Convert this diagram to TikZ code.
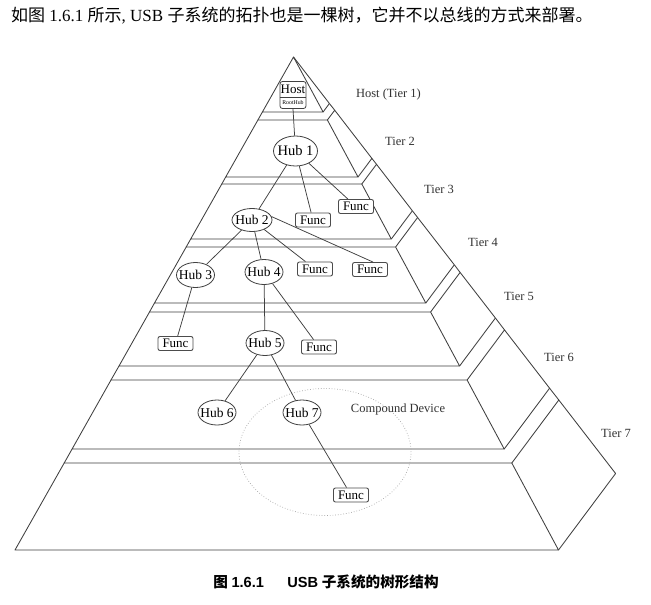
\documentclass[tikz,border=0pt]{standalone}
\usepackage{fontspec}
\setmainfont{Liberation Serif}
\newfontfamily\cjk{Noto Sans CJK SC}
\newfontfamily\capsans{Liberation Sans}
\usetikzlibrary{shapes.geometric}
\newcommand{\zb}[1]{\makebox[0pt]{#1}}
\begin{document}
\begin{tikzpicture}[x=1pt,y=-1pt,
  face/.style={draw=black!75, line width=0.85pt, line join=round},
  ledge/.style={draw=black!75, line width=0.85pt},
  link/.style={draw=black!75, line width=0.75pt},
  hub/.style={ellipse, draw=black!75, line width=0.8pt, fill=white, inner sep=0pt,
    minimum width=38pt, minimum height=25pt, font=\fontsize{13.5}{15}\selectfont},
  func/.style={rectangle, rounded corners=2pt, draw=black!70, line width=0.9pt, fill=white,
    inner sep=0pt, minimum width=35pt, minimum height=14pt, font=\fontsize{13}{14}\selectfont},
  tierlbl/.style={inner sep=0pt, text=black!80, font=\fontsize{12.5}{14}\selectfont}]
\useasboundingbox (0,0) rectangle (651,605);
\fill[white] (0,0) rectangle (651,605);

% header and caption
\node[anchor=west, inner sep=0pt, font=\fontsize{17}{19}\selectfont] (header) at (11,16)
  {{\cjk 如图} 1.6.1 {\cjk 所示}, USB {\cjk 子系统的拓扑也是一棵树，它并不以总线的方式来部署。}};
\node[inner sep=0pt, font=\fontsize{14.6}{17}\selectfont\bfseries] (caption) at (326,582)
  {{\cjk 图} {\capsans 1.6.1}\hspace{1.6em}{\capsans USB} {\cjk 子系统的树形结构}};

% ---------- pyramid ----------
% tier 1
\draw[face] (293.5,57) -- (323.1,112) -- (262.4,112) -- cycle;
\draw[face] (293.5,57) -- (329.4,103.5) -- (323.1,112);
\draw[ledge] (257.9,120) -- (262.4,112);
\draw[ledge] (329.4,103.5) -- (334.7,110.2);
% tier 2
\draw[face] (257.9,120) -- (327.4,120) -- (358.0,177) -- (225.7,177) -- cycle;
\draw[face] (327.4,120) -- (334.7,110.2) -- (371.9,158.4) -- (358.0,177);
\draw[ledge] (221.8,184) -- (225.7,177);
\draw[ledge] (371.9,158.4) -- (376.5,164.3);
% tier 3
\draw[face] (221.8,184) -- (361.8,184) -- (391.3,239) -- (190.7,239) -- cycle;
\draw[face] (361.8,184) -- (376.5,164.3) -- (412.4,210.8) -- (391.3,239);
\draw[ledge] (186.2,247) -- (190.7,239);
\draw[ledge] (412.4,210.8) -- (417.6,217.5);
% tier 4
\draw[face] (186.2,247) -- (395.6,247) -- (425.8,303) -- (154.5,303) -- cycle;
\draw[face] (395.6,247) -- (417.6,217.5) -- (454.3,264.8) -- (425.8,303);
\draw[ledge] (149.5,312) -- (154.5,303);
\draw[ledge] (454.3,264.8) -- (460.1,272.4);
% tier 5
\draw[face] (149.5,312) -- (430.6,312) -- (459.6,366) -- (119.0,366) -- cycle;
\draw[face] (430.6,312) -- (460.1,272.4) -- (495.4,318.0) -- (459.6,366);
\draw[ledge] (111.0,380) -- (119.0,366);
\draw[ledge] (495.4,318.0) -- (504.5,329.9);
% tier 6
\draw[face] (111.0,380) -- (467.1,380) -- (504.2,449) -- (72.1,449) -- cycle;
\draw[face] (467.1,380) -- (504.5,329.9) -- (549.6,388.2) -- (504.2,449);
\draw[ledge] (64.2,463) -- (72.1,449);
\draw[ledge] (549.6,388.2) -- (558.8,400);
% tier 7
\draw[face] (64.2,463) -- (511.8,463) -- (558.5,550) -- (15.0,550) -- cycle;
\draw[face] (511.8,463) -- (558.8,400) -- (615.6,473.5) -- (558.5,550);

% compound device outline
\draw[black!35, dotted, line width=0.7pt] (325,452) ellipse [x radius=86pt, y radius=63.5pt];

% tier labels
\node[tierlbl] (l1) at (388.5,94) {Host (Tier 1)};
\node[tierlbl] (l2) at (400,141) {Tier 2};
\node[tierlbl] (l3) at (439,189) {Tier 3};
\node[tierlbl] (l4) at (483,242) {Tier 4};
\node[tierlbl] (l5) at (519,296) {Tier 5};
\node[tierlbl] (l6) at (559,357) {Tier 6};
\node[tierlbl] (l7) at (616,433) {Tier 7};
\node[tierlbl] (lcd) at (398,409) {Compound Device};

% ---------- tree nodes ----------
\node[rectangle, rounded corners=2.5pt, draw=black!75, line width=0.8pt, fill=white,
  minimum width=26pt, minimum height=27pt, inner sep=0pt] (host) at (293,95) {};
\draw[black!75, line width=0.7pt] ([yshift=-2.5pt]host.west) -- ([yshift=-2.5pt]host.east);
\node[inner sep=0pt, font=\fontsize{13}{14}\selectfont] (hosttxt) at (293,89.5) {Host};
\node[inner sep=0pt, font=\fontsize{5.8}{6}\selectfont] (roothub) at (293,103) {RootHub};

\node[hub, minimum width=44pt, minimum height=30pt, font=\fontsize{14.5}{16}\selectfont] (hub1) at (295.5,151) {\zb{Hub 1}};
\node[hub, minimum width=40pt, minimum height=23pt] (hub2) at (252,220) {\zb{Hub 2}};
\node[hub] (hub3) at (195.5,275) {\zb{Hub 3}};
\node[hub] (hub4) at (264,272) {\zb{Hub 4}};
\node[hub] (hub5) at (265,343) {\zb{Hub 5}};
\node[hub] (hub6) at (217,412.5) {\zb{Hub 6}};
\node[hub] (hub7) at (302,412.5) {\zb{Hub 7}};

\node[func] (f1) at (313,220) {Func};
\node[func] (f2) at (356,206.5) {Func};
\node[func] (f3) at (315,269) {Func};
\node[func] (f4) at (370,269.5) {Func};
\node[func] (f5) at (175.5,343.5) {Func};
\node[func] (f6) at (319,347) {Func};
\node[func] (f7) at (351,495) {Func};

% ---------- connectors ----------
\draw[link] (host.south) -- (hub1);
\draw[link] (hub1) -- (hub2);
\draw[link] (hub1) -- (f1);
\draw[link] (hub1) -- (f2);
\draw[link] (hub2) -- (hub3);
\draw[link] (hub2) -- (hub4);
\draw[link] (hub2) -- (f3);
\draw[link] (hub2.10) -- ([xshift=3pt]f4.north);
\draw[link] (hub3) -- (f5);
\draw[link] (hub4) -- (hub5);
\draw[link] (hub4) -- (f6);
\draw[link] (hub5) -- (hub6);
\draw[link] (hub5) -- (hub7);
\draw[link] (hub7) -- (f7);
\end{tikzpicture}
\end{document}
